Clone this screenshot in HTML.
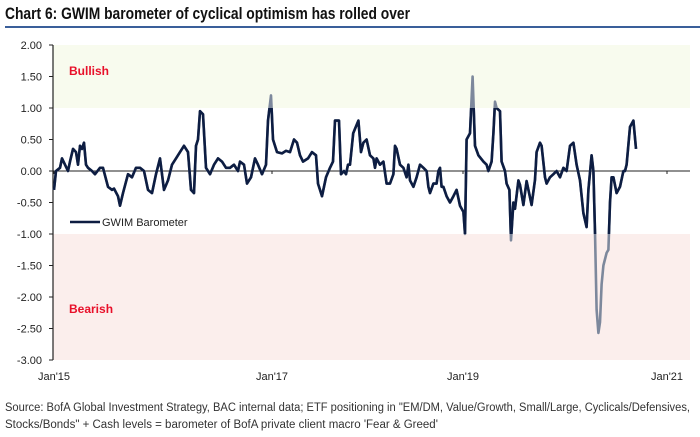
<!DOCTYPE html>
<html><head><meta charset="utf-8"><style>
body{margin:0;background:#fff;width:700px;height:432px;overflow:hidden;font-family:"Liberation Sans",sans-serif}
</style></head><body>
<svg id="c" width="700" height="432" xmlns="http://www.w3.org/2000/svg">
<text x="5" y="19" font-family="Liberation Sans Narrow, Liberation Sans, sans-serif" font-weight="bold" font-size="17" fill="#111" textLength="405" lengthAdjust="spacingAndGlyphs">Chart 6: GWIM barometer of cyclical optimism has rolled over</text>
<rect x="5" y="26" width="695" height="2" fill="#3a5f9a"/>
<g id="plot"></g>
<text x="5" y="411" font-size="11.5" fill="#333" textLength="685" lengthAdjust="spacingAndGlyphs">Source: BofA Global Investment Strategy, BAC internal data; ETF positioning in "EM/DM, Value/Growth, Small/Large, Cyclicals/Defensives,</text>
<text x="5" y="428" font-size="11.5" fill="#333">Stocks/Bonds" + Cash levels = barometer of BofA private client macro 'Fear &amp; Greed'</text>
</svg>
<script>
const weeks=[0,1,3,4,5.5,7,8,9.5,11,12,13,14,15,16,17,19,20.5,23,24.5,27,29,30,32,33,34.5,37,39,41,43,45,47,49,51,53,55,57,59,61,63,65,67,68.5,70,71,72,73,74.5,76,78,80,82,84,86,88,90,92,93,95,96.5,98.5,100.5,102,104,106,107,108.5,109.5,111.5,114,116,118,120,121.5,123,124.5,127,129,131,132,133,134,136,138,139.5,140.5,142.5,143.5,145,146,147,148,149.6,152.2,153.5,154.7,156.3,158,159.7,160.5,161.3,163,164.7,166.3,168,169.7,170.5,171.3,173,174.7,176.3,177.2,178,179.7,181.3,183,184.7,186.3,187.2,188,189.7,191.3,192.2,193,193.8,194.7,196.3,198,199.7,201.3,203,204.7,205.5,206.3,208,209.3,210.5,212.2,214.7,216.3,217.2,218.8,219.7,220.5,221.3,223,223.8,225.5,226.3,227.7,228.5,229.7,230.5,232.2,233,234.7,236.3,238.8,240.5,241.3,243,243.8,245.5,246.3,248,249.7,251.3,253,254.7,256.3,258,259.7,261.3,263,264.7,266.3,267.2,268.8,269.7,270.5,271.3,272.2,273,273.8,274.7,276.3,277.2,278,278.8,279.7,281.3,283,284.7,285.5,286.3,288,289.7,291];
const values=[-0.3,0,0.05,0.2,0.1,0,0.15,0.35,0.3,0.1,0.4,0.35,0.45,0.1,0.05,0,-0.05,0.05,0.05,-0.25,-0.3,-0.28,-0.4,-0.55,-0.35,-0.05,-0.1,0.05,0.05,0,-0.3,-0.35,-0.05,0.2,-0.3,-0.15,0.1,0.2,0.3,0.4,0.3,-0.3,-0.35,0.4,0.5,0.95,0.9,0.05,-0.05,0.1,0.2,0.15,0.05,0.05,0.1,0,0.15,0.1,-0.2,-0.1,0.2,0.1,-0.05,0.1,0.8,1.2,0.5,0.3,0.28,0.32,0.3,0.5,0.45,0.25,0.15,0.2,0.3,0.25,-0.2,-0.3,-0.4,-0.1,0.05,0.15,0.8,0.8,-0.05,0,-0.05,0.1,0.1,0.6,0.8,0.3,0.45,0.5,0.25,0.2,0.05,0.2,0.1,0.15,-0.2,-0.2,-0.05,0.4,0.35,0.1,0.05,-0.1,0.1,-0.15,-0.25,-0.1,0.1,0.05,0,-0.25,-0.35,-0.2,-0.2,0,0.05,-0.25,-0.25,-0.4,-0.5,-0.4,-0.3,-0.55,-0.65,-1.0,0.5,0.6,1.5,0.4,0.25,0.15,0.1,0,0.15,0.6,1.1,1.0,0.95,0.15,0,-0.2,-0.3,-1.1,-0.5,-0.6,-0.15,-0.22,-0.54,-0.16,-0.54,-0.14,0.3,0.45,0.4,-0.1,-0.2,-0.1,-0.05,0,-0.1,0.05,0,0.4,0.45,0.1,-0.15,-0.67,-0.89,-0.3,0.25,0,-0.97,-2.2,-2.57,-2.4,-1.8,-1.5,-1.3,-1.25,-0.5,-0.1,-0.1,-0.35,-0.25,0,0,0.1,0.7,0.8,0.35];
const yTicks=[2,1.5,1,0.5,0,-0.5,-1,-1.5,-2,-2.5,-3];
const xTickLabels=["Jan'15","Jan'17","Jan'19","Jan'21"];
const xTickWeeks=[0,109,204.5,306.5];

const NS="http://www.w3.org/2000/svg";
const X=w=>54+2*w, Y=v=>171-63*v;
const g=document.getElementById('plot');
function mk(t,a,txt){const e=document.createElementNS(NS,t);for(const k in a)e.setAttribute(k,a[k]);if(txt!=null)e.textContent=txt;g.appendChild(e);return e;}
let e;
e=mk('rect',{x:53,y:Y(2),width:637,height:Y(1)-Y(2),fill:'#f8fbee'});


e=mk('rect',{x:53,y:Y(-1),width:637,height:Y(-3)-Y(-1),fill:'#fbeeec'});


e=mk('text',{x:69,y:75,fill:'#e8102a','font-weight':'bold','font-size':12},'Bullish');


e=mk('text',{x:69,y:313,fill:'#e8102a','font-weight':'bold','font-size':12},'Bearish');


yTicks.forEach(v=>{
  e=mk('text',{x:42,y:Y(v)+4,'text-anchor':'end','font-size':11,fill:'#222'},v.toFixed(2));
  
  
  mk('line',{x1:49,x2:53,y1:Y(v),y2:Y(v),stroke:'#222'});
});
e=mk('line',{x1:53,x2:53,y1:Y(2),y2:Y(-3),stroke:'#222','stroke-width':1.2});


e=mk('line',{x1:53,x2:690,y1:Y(0),y2:Y(0),stroke:'#222','stroke-width':1});


xTickWeeks.forEach((w,i)=>{
  mk('line',{x1:X(w),x2:X(w),y1:Y(0),y2:Y(0)+3,stroke:'#222'});
  e=mk('text',{x:X(w),y:380,'text-anchor':'middle','font-size':11,fill:'#222'},xTickLabels[i]);
  
  
});
const d=weeks.map((w,i)=>(i?'L':'M')+X(w).toFixed(1)+' '+Y(values[i]).toFixed(1)).join(' ');
const defs=mk('defs',{});
const cp=document.createElementNS(NS,'clipPath');cp.setAttribute('id','mid');
const cr=document.createElementNS(NS,'rect');cr.setAttribute('x',0);cr.setAttribute('y',Y(1));cr.setAttribute('width',700);cr.setAttribute('height',Y(-1)-Y(1));
cp.appendChild(cr);defs.appendChild(cp);
e=mk('path',{d:d,fill:'none',stroke:'#7d889c','stroke-width':2.6,'stroke-linejoin':'round'});


e=mk('path',{d:d,fill:'none',stroke:'#0d1d42','stroke-width':2.6,'stroke-linejoin':'round','clip-path':'url(#mid)'});


e=mk('line',{x1:70,x2:100,y1:222,y2:222,stroke:'#0d1d42','stroke-width':2.6});


e=mk('text',{x:102,y:226,'font-size':11,fill:'#222'},'GWIM Barometer');


</script>
</body></html>
